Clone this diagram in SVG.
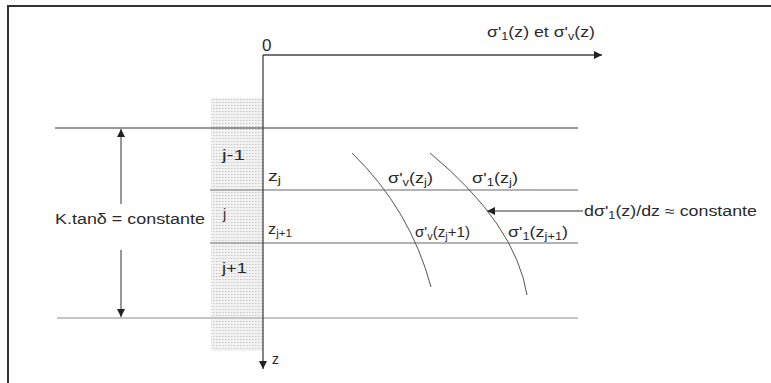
<svg xmlns="http://www.w3.org/2000/svg" width="771" height="383" viewBox="0 0 771 383">
<defs>
<style>
text{font-family:"Liberation Sans",Arial,sans-serif;font-size:14px;fill:#2a2a2a}
.sub{font-size:10px}
.axis{stroke:#444;stroke-width:1.3;fill:none}
.thin{stroke:#333;stroke-width:1;fill:none}
.lay{stroke:#9a9a9a;stroke-width:1.6;fill:none}
.curve{stroke:#555;stroke-width:1;fill:none}
</style>
<pattern id="dots" width="3" height="3" patternUnits="userSpaceOnUse">
<rect width="3" height="3" fill="#f2f2f2"/>
<rect x="0" y="0" width="1.5" height="1" fill="#c8c8c8"/>
</pattern>
<marker id="ah" viewBox="0 0 10 10" refX="10" refY="5" markerWidth="12" markerHeight="8" markerUnits="userSpaceOnUse" orient="auto">
<path d="M0,0 L10,5 L0,10 z" fill="#222"/>
</marker>
</defs>
<rect width="771" height="383" fill="#fff"/>
<g id="frame">
<line x1="7" y1="6" x2="771" y2="6" stroke="#333" stroke-width="2"/>
<line x1="8" y1="6" x2="8" y2="383" stroke="#333" stroke-width="2"/>
</g>
<g id="strip">
<rect x="211" y="98" width="52" height="253" fill="url(#dots)"/>
</g>
<g id="layers">
<line class="thin" x1="55" y1="128" x2="578" y2="128"/>
<line class="lay" x1="210" y1="190" x2="578" y2="190"/>
<line class="lay" x1="210" y1="243" x2="578" y2="243"/>
<line x1="57" y1="318" x2="578" y2="318" stroke="#c4c4c4" stroke-width="2"/>
</g>
<g id="connectors">
<line class="axis" x1="263" y1="55" x2="602" y2="55" marker-end="url(#ah)"/>
<line class="axis" x1="263" y1="55" x2="263" y2="369" marker-end="url(#ah)"/>
<line class="thin" x1="121" y1="204" x2="121" y2="129" marker-end="url(#ah)"/>
<line class="thin" x1="121" y1="250" x2="121" y2="317" marker-end="url(#ah)"/>
<line class="thin" x1="583" y1="211" x2="487" y2="211" marker-end="url(#ah)"/>
<path class="curve" d="M352,153 Q410.5,210 431,287"/>
<path class="curve" d="M430,153 Q515.5,224 527,295"/>
</g>
<g id="labels">
<text x="262" y="51" style="font-size:17px">0</text>
<text x="487" y="37" textLength="108" lengthAdjust="spacingAndGlyphs">σ'<tspan class="sub" dy="3">1</tspan><tspan dy="-3">(z) et σ'</tspan><tspan class="sub" dy="3">v</tspan><tspan dy="-3">(z)</tspan></text>
<text x="272" y="364">z</text>
<text x="55" y="224" textLength="150" lengthAdjust="spacingAndGlyphs">K.tanδ = constante</text>
<text x="222" y="160" textLength="23" lengthAdjust="spacingAndGlyphs">j-1</text>
<text x="223" y="219">j</text>
<text x="222" y="273" textLength="25" lengthAdjust="spacingAndGlyphs">j+1</text>
<text x="268" y="181" textLength="13" lengthAdjust="spacingAndGlyphs">z<tspan class="sub" dy="3">j</tspan></text>
<text x="268" y="234" textLength="24" lengthAdjust="spacingAndGlyphs">z<tspan class="sub" dy="3">j+1</tspan></text>
<text x="388" y="183" textLength="45" lengthAdjust="spacingAndGlyphs">σ'<tspan class="sub" dy="3">v</tspan><tspan dy="-3">(z</tspan><tspan class="sub" dy="3">j</tspan><tspan dy="-3">)</tspan></text>
<text x="472" y="183" textLength="46" lengthAdjust="spacingAndGlyphs">σ'<tspan class="sub" dy="3">1</tspan><tspan dy="-3">(z</tspan><tspan class="sub" dy="3">j</tspan><tspan dy="-3">)</tspan></text>
<text x="415" y="237" textLength="55" lengthAdjust="spacingAndGlyphs">σ'<tspan class="sub" dy="3">v</tspan><tspan dy="-3">(z</tspan><tspan class="sub" dy="3">j</tspan><tspan dy="-3">+1)</tspan></text>
<text x="508" y="237" textLength="60" lengthAdjust="spacingAndGlyphs">σ'<tspan class="sub" dy="3">1</tspan><tspan dy="-3">(z</tspan><tspan class="sub" dy="3">j+1</tspan><tspan dy="-3">)</tspan></text>
<text x="584" y="216" textLength="173" lengthAdjust="spacingAndGlyphs">dσ'<tspan class="sub" dy="3">1</tspan><tspan dy="-3">(z)/dz ≈ constante</tspan></text>
</g>
</svg>
